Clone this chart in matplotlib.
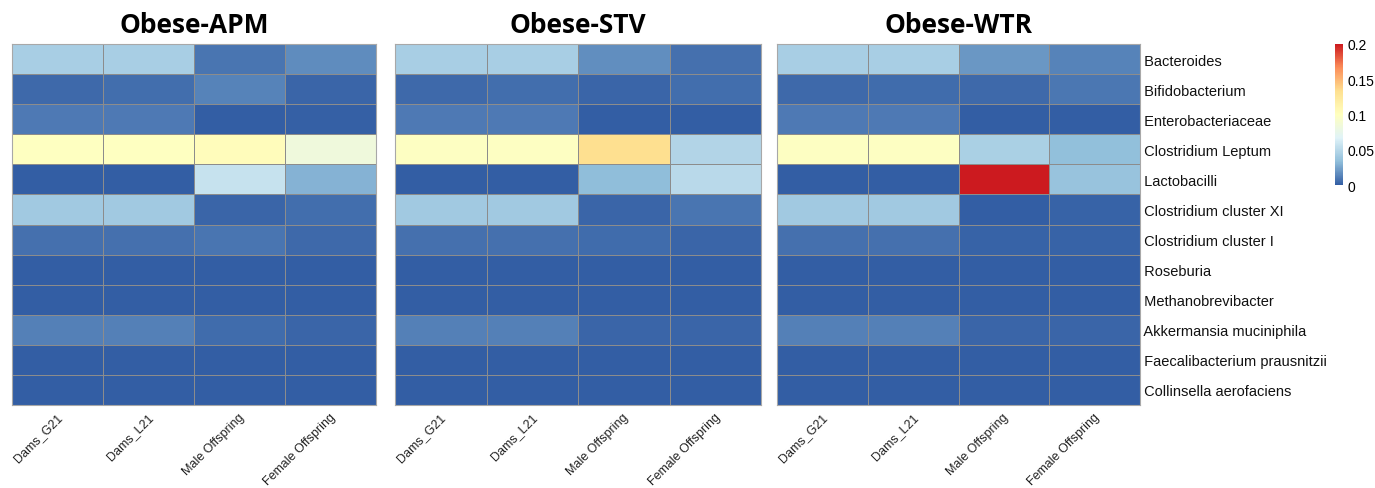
import numpy as np
import matplotlib
matplotlib.use("Agg")
import matplotlib.pyplot as plt
from matplotlib.colors import LinearSegmentedColormap

# ==========================================
# Data (relative abundance)
# ==========================================
taxa = [
    "Bacteroides", "Bifidobacterium", "Enterobacteriaceae", "Clostridium Leptum",
    "Lactobacilli", "Clostridium cluster XI", "Clostridium cluster I", "Roseburia",
    "Methanobrevibacter", "Akkermansia muciniphila", "Faecalibacterium prausnitzii",
    "Collinsella aerofaciens",
]
groups = ["Dams_G21", "Dams_L21", "Male Offspring", "Female Offspring"]
titles = ["Obese-APM", "Obese-STV", "Obese-WTR"]

apm = [
    [0.043, 0.043, 0.008, 0.016],
    [0.004, 0.006, 0.013, 0.003],
    [0.010, 0.010, 0.000, 0.001],
    [0.099, 0.099, 0.103, 0.083],
    [0.000, 0.000, 0.056, 0.029],
    [0.040, 0.040, 0.003, 0.006],
    [0.007, 0.007, 0.008, 0.004],
    [0.000, 0.000, 0.000, 0.000],
    [0.000, 0.000, 0.000, 0.000],
    [0.012, 0.012, 0.005, 0.003],
    [0.000, 0.000, 0.000, 0.000],
    [0.000, 0.000, 0.000, 0.000],
]
stv = [
    [0.043, 0.043, 0.017, 0.007],
    [0.004, 0.006, 0.003, 0.006],
    [0.010, 0.010, 0.000, 0.000],
    [0.098, 0.098, 0.133, 0.047],
    [0.000, 0.000, 0.033, 0.050],
    [0.040, 0.040, 0.003, 0.008],
    [0.007, 0.007, 0.005, 0.003],
    [0.000, 0.000, 0.000, 0.000],
    [0.000, 0.000, 0.000, 0.000],
    [0.012, 0.012, 0.003, 0.003],
    [0.000, 0.000, 0.000, 0.000],
    [0.000, 0.000, 0.000, 0.000],
]
wtr = [
    [0.043, 0.043, 0.020, 0.013],
    [0.004, 0.005, 0.004, 0.009],
    [0.010, 0.010, 0.000, 0.000],
    [0.098, 0.098, 0.044, 0.034],
    [0.000, 0.000, 0.200, 0.036],
    [0.040, 0.040, 0.000, 0.002],
    [0.007, 0.007, 0.002, 0.002],
    [0.000, 0.000, 0.000, 0.000],
    [0.000, 0.000, 0.000, 0.000],
    [0.012, 0.012, 0.003, 0.003],
    [0.000, 0.000, 0.000, 0.000],
    [0.000, 0.000, 0.000, 0.000],
]
cbar_ticks = [0, 0.05, 0.1, 0.15, 0.2]

# reversed RdYlBu-like ramp
cmap = LinearSegmentedColormap.from_list(
    "rdylbu", ["#335EA4", "#91BFDB", "#E0F3F8", "#FFFFBF", "#FEE090", "#FC8D59", "#CC1A1F"])

plt.rcParams['font.family'] = ['Liberation Sans', 'DejaVu Sans']

fig = plt.figure(figsize=(13.75, 4.89), dpi=100)
W, H = 1375, 489
panels = [(12, 376), (395, 761), (777, 1140)]
top_px, bot_px = 45, 406

for (x0, x1), title, data in zip(panels, titles, [apm, stv, wtr]):
    ax = fig.add_axes([x0 / W, 1 - bot_px / H, (x1 - x0) / W, (bot_px - top_px) / H])
    arr = np.array(data)
    mesh = ax.pcolormesh(arr, cmap=cmap, vmin=0, vmax=0.2,
                         edgecolors="#8c8c8c", linewidth=0.6)
    ax.set_xlim(0, len(groups))
    ax.set_ylim(len(taxa), 0)
    ax.set_xticks([])
    ax.set_yticks([])
    for s in ax.spines.values():
        s.set_color("#a8a8a8")
        s.set_linewidth(0.8)
    for i, g in enumerate(groups):
        ax.text(i + 0.58, len(taxa) + 0.2, g, rotation=45, ha="right", va="top",
                fontsize=9, color="#222222")
    ax.text(0.5, 1.055, title, transform=ax.transAxes, ha="center", va="center",
            fontsize=19, fontweight="bold", family=["Open Sans", "DejaVu Sans"])

# row labels on the last panel
for j, t in enumerate(taxa):
    ax.text(len(groups), j + 0.55, " " + t, ha="left", va="center",
            fontsize=10.5, color="#111111")

cax = fig.add_axes([1335 / W, 1 - 186 / H, 8 / W, (186 - 45) / H])
cb = fig.colorbar(mesh, cax=cax, ticks=cbar_ticks)
cb.outline.set_visible(False)
cb.ax.tick_params(length=0, labelsize=10, pad=3)
cb.ax.set_yticklabels(["0", "0.05", "0.1", "0.15", "0.2"])

fig.savefig("out.png", dpi=100)
